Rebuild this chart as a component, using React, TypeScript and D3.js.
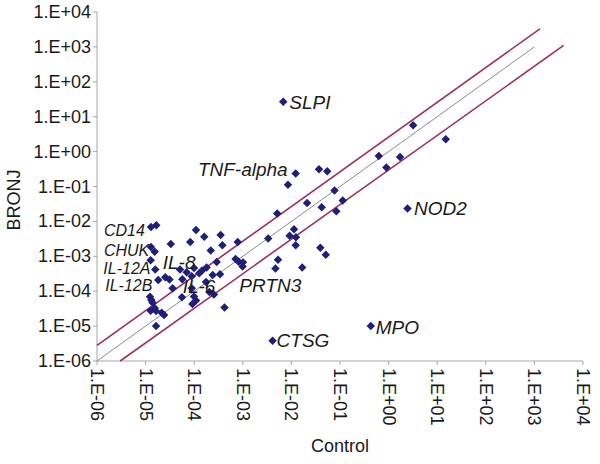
import React from "react";
import * as d3 from "d3";

// Expression values (Control on x, BRONJ on y)
const control = [
  3.2, 15, 0.63, 1.72, 0.9, 0.114, 2.45, 0.0068, 0.01225, 0.037,
  0.0546, 0.0085, 0.077, 0.021, 0.042, 0.084, 0.0051, 0.0113, 0.0092, 0.0124,
  0.00333, 0.01225, 0.0394, 0.051, 0.0053, 0.0047, 0.0167, 0.43, 0.0041,
  1.09e-4, 3.5e-4, 1.61e-4, 8.3e-5, 3.8e-4, 7.85e-4, 2.19e-4, 2.9e-4, 7.1e-4, 8.2e-4,
  1.01e-3, 9.9e-4, 2.4e-4, 3.4e-4, 1.27e-4, 1.45e-4, 1.8e-4, 9.9e-5, 7.0e-5, 8.9e-5,
  5.1e-5, 5.7e-5, 2.05e-4, 2.55e-4, 4.2e-4, 9.2e-5, 1.09e-4, 8.9e-5, 5.6e-5, 9.9e-5,
  3.6e-5, 1.75e-4,
  1.29e-5, 1.66e-5, 3.3e-5, 1.29e-5, 1.54e-5, 1.27e-5, 1.58e-5, 1.82e-5, 2.54e-5, 3.1e-5,
  1.23e-5, 1.31e-5, 1.39e-5, 1.54e-5, 1.27e-5, 1.64e-5, 2.14e-5, 2.4e-5, 1.64e-5,
];
const bronj = [
  5.7, 2.25, 0.75, 0.7, 0.35, 0.04, 0.0234, 26.9, 0.235, 0.311,
  0.273, 0.113, 0.077, 0.0337, 0.0254, 0.0196, 0.0168, 0.006, 0.0039, 0.00352,
  0.00324, 0.00207, 0.00175, 0.0011, 0.0008, 0.00045, 0.00048, 1.0e-5, 3.8e-6,
  5.7e-3, 4.1e-3, 3.65e-3, 2.57e-3, 2.07e-3, 2.57e-3, 1.47e-3, 6.9e-4, 8.4e-4, 7.0e-4,
  6.7e-4, 5.1e-4, 2.9e-4, 3.05e-4, 3.26e-4, 3.9e-4, 4.8e-4, 4.6e-4, 3.5e-4, 2.67e-4,
  4.2e-4, 2.19e-4, 9.5e-5, 8.0e-5, 3.4e-5, 4.3e-5, 5.4e-5, 1.21e-4, 6.7e-5, 7.1e-5,
  1.21e-4, 1.84e-4,
  6.9e-3, 7.7e-3, 2.25e-3, 1.85e-3, 1.35e-3, 7.7e-4, 4.2e-4, 2.1e-4, 2.5e-4, 2.16e-4,
  6.95e-5, 5.6e-5, 4.7e-5, 3.3e-5, 2.76e-5, 2.7e-5, 2.42e-5, 2.08e-5, 1.0e-5,
];

// Genes labelled next to their own marker (index into the arrays above)
const pointLabels = [
  { name: "SLPI", index: 7 },
  { name: "TNF-alpha", index: 8 },
  { name: "NOD2", index: 6 },
  { name: "MPO", index: 27 },
  { name: "CTSG", index: 28 },
];
// Offsets (px) for those labels
const pointLabelLayout: Record<string, { dx: number; dy: number; anchor: string }> = {
  SLPI: { dx: 6, dy: 7.5, anchor: "start" },
  "TNF-alpha": { dx: -8, dy: 2.5, anchor: "end" },
  NOD2: { dx: 6.5, dy: 6.5, anchor: "start" },
  MPO: { dx: 5, dy: 8, anchor: "start" },
  CTSG: { dx: 4, dy: 6, anchor: "start" },
};

// Free-standing gene labels, placed at (control, bronj) coordinates
const freeLabels = ["CD14", "CHUK", "IL-12A", "IL-12B", "IL-8", "IL-6", "PRTN3"];
const freeLabelX = [1.39e-6, 1.39e-6, 1.35e-6, 1.48e-6, 2.25e-5, 5.8e-5, 8.5e-4];
const freeLabelY = [3.94e-3, 1.02e-3, 3.11e-4, 1.01e-4, 4.3e-4, 8.9e-5, 9.7e-5];
const freeLabelBig = [false, false, false, false, true, true, true];

// Reference lines: identity and fold-change bounds
const identityLine = [
  [1e-6, 1e-6],
  [1e3, 1e3],
];
const upperLine = [
  [1e-6, 2.8e-6],
  [1.3e3, 3.3e3],
];
const lowerLine = [
  [3e-6, 1e-6],
  [4e3, 1.1e3],
];

const tickValues = [1e-6, 1e-5, 1e-4, 1e-3, 1e-2, 1e-1, 1e0, 1e1, 1e2, 1e3, 1e4];
const tickLabels = [
  "1.E-06", "1.E-05", "1.E-04", "1.E-03", "1.E-02", "1.E-01",
  "1.E+00", "1.E+01", "1.E+02", "1.E+03", "1.E+04",
];

const FONT = "'Liberation Sans', Arial, Helvetica, sans-serif";

export default function App() {
  const W = 600;
  const H = 464;
  const x = d3.scaleLog().domain([1e-6, 1e4]).range([97, 583]);
  const y = d3.scaleLog().domain([1e-6, 1e4]).range([361, 12]);
  const line = d3
    .line<number[]>()
    .x((d) => x(d[0]))
    .y((d) => y(d[1]));
  const diamond = d3.symbol().type(d3.symbolSquare).size(36)();
  const axisColor = "#a6a6a6";
  const markColor = "#1f1f7a";
  const redColor = "#9c2f63";

  return (
    <svg
      width={W}
      height={H}
      style={{ position: "absolute", left: 0, top: 0, background: "#fff" }}
      fontFamily={FONT}
    >
      <rect x={0} y={0} width={W} height={H} fill="#fff" />
      {/* axes */}
      <line x1={x(1e-6)} x2={x(1e-6)} y1={y(1e-6)} y2={y(1e4)} stroke={axisColor} strokeWidth={1} />
      <line x1={x(1e-6)} x2={x(1e4)} y1={y(1e-6)} y2={y(1e-6)} stroke={axisColor} strokeWidth={1} />
      {tickValues.map((t, i) => (
        <g key={"yt" + i}>
          <line x1={x(1e-6) - 4} x2={x(1e-6)} y1={y(t)} y2={y(t)} stroke={axisColor} />
          <text x={x(1e-6) - 6} y={y(t)} textAnchor="end" dominantBaseline="central" fontSize={18} fill="#1a1a1a">
            {tickLabels[i]}
          </text>
        </g>
      ))}
      {tickValues.map((t, i) => (
        <g key={"xt" + i}>
          <line x1={x(t)} x2={x(t)} y1={y(1e-6)} y2={y(1e-6) + 4} stroke={axisColor} />
          <text
            transform={`translate(${x(t)},${y(1e-6) + 7}) rotate(90)`}
            textAnchor="start"
            dominantBaseline="central"
            fontSize={18}
            fill="#1a1a1a"
          >
            {tickLabels[i]}
          </text>
        </g>
      ))}
      <text x={340} y={452} textAnchor="middle" fontSize={18} fill="#1a1a1a">
        Control
      </text>
      <text transform="translate(14,200) rotate(-90)" textAnchor="middle" dominantBaseline="central" fontSize={18} fill="#1a1a1a">
        BRONJ
      </text>

      {/* reference lines */}
      <path d={line(identityLine) || ""} stroke="#8c8c8c" strokeWidth={1} fill="none" />
      <path d={line(upperLine) || ""} stroke={redColor} strokeWidth={1.6} fill="none" />
      <path d={line(lowerLine) || ""} stroke={redColor} strokeWidth={1.6} fill="none" />

      {/* points */}
      {control.map((c, i) => (
        <path
          key={"p" + i}
          d={diamond || ""}
          transform={`translate(${x(c)},${y(bronj[i])}) rotate(45)`}
          fill={markColor}
        />
      ))}

      {/* labels */}
      {pointLabels.map((l) => {
        const lay = pointLabelLayout[l.name];
        return (
          <text
            key={l.name}
            x={x(control[l.index]) + lay.dx}
            y={y(bronj[l.index]) + lay.dy}
            textAnchor={lay.anchor as any}
            fontSize={19}
            fontStyle="italic"
            fill="#1a1a1a"
          >
            {l.name}
          </text>
        );
      })}
      {freeLabels.map((name, i) => (
        <text
          key={name}
          x={x(freeLabelX[i])}
          y={y(freeLabelY[i])}
          fontSize={freeLabelBig[i] ? 19 : 16}
          fontStyle="italic"
          fill="#1a1a1a"
        >
          {name}
        </text>
      ))}
    </svg>
  );
}
